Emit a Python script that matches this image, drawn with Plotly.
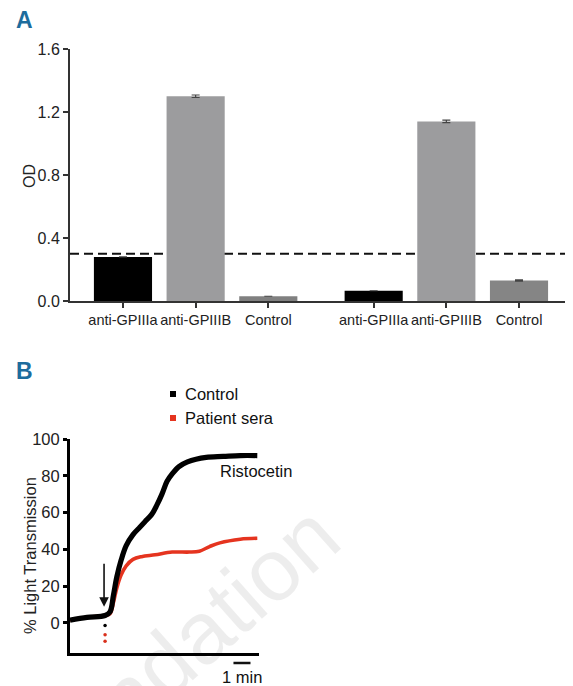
import plotly.graph_objects as go

# ---------------- Panel A data ----------------
a_categories = ["anti-GPIIIa", "anti-GPIIIB", "Control", "anti-GPIIIa", "anti-GPIIIB", "Control"]
a_group = [0, 0, 0, 1, 1, 1]
a_od = [0.28, 1.30, 0.03, 0.065, 1.14, 0.13]
a_err = [0.0, 0.008, 0.0, 0.0, 0.008, 0.004]
a_cutoff = 0.30
a_yticks = [0.0, 0.4, 0.8, 1.2, 1.6]

# ---------------- Panel B data ----------------
b_time_control = [0.0, 1.0, 2.06, 2.35, 2.55, 2.75, 3.0, 3.3, 3.7, 4.1, 4.4, 4.8, 5.1, 5.4,
                  5.7, 6.0, 6.4, 6.9, 7.4, 8.0, 9.0, 10.0, 11.0]
b_control = [1.5, 3.0, 4.0, 6.0, 15.0, 25.0, 34.0, 42.0, 48.0, 52.0, 55.0, 59.0, 64.0, 70.0,
             77.0, 81.0, 85.0, 87.5, 89.0, 90.0, 90.5, 91.0, 91.0]
b_time_patient = [0.0, 1.0, 2.06, 2.35, 2.55, 2.75, 3.0, 3.3, 3.7, 4.2, 5.0, 6.0, 7.0, 7.6,
                  8.2, 8.8, 10.0, 11.0]
b_patient = [1.5, 3.0, 4.0, 5.0, 11.0, 19.0, 26.0, 31.0, 34.5, 36.0, 37.0, 38.5, 38.5, 39.0,
             41.5, 43.5, 45.5, 46.0]
b_drop_time = [2.06]
b_drop_control = [-1.5]
b_drop_patient = [-6.5, -10.0]
b_yticks = [0, 20, 40, 60, 80, 100]
b_series = ["Control", "Patient sera"]
b_arrow_time = 2.0
b_scale_start, b_scale_len = 9.6, 1.0

FONT = "Liberation Sans, Arial, sans-serif"
W, H = 573, 686
OFF = 8  # page body margin that shifts the figure on screen
GAP = 0.45
a_pos = [g * (3 + GAP) + (i % 3) for i, g in enumerate(a_group)]
a_colors = ["#000000", "#9c9c9e", "#808080", "#000000", "#9c9c9e", "#858585"]
RED = "#e5341f"
series_colors = ["#000000", RED]


def px(x):
    return (x - OFF) / W


def py(y):
    return 1 - (y - OFF) / H


fig = go.Figure()

fig.add_trace(go.Bar(
    x=a_pos, y=a_od, width=0.8, marker=dict(color=a_colors, line=dict(width=0)),
    error_y=dict(type="data", array=a_err, visible=True, color="#444", thickness=1.2, width=4),
    xaxis="x", yaxis="y", showlegend=False, hoverinfo="skip"))

# Panel B curves
fig.add_trace(go.Scatter(
    x=b_time_patient, y=b_patient, mode="lines", line=dict(color=RED, width=3.6, shape="spline"),
    xaxis="x2", yaxis="y2", showlegend=False))
fig.add_trace(go.Scatter(
    x=b_time_control, y=b_control, mode="lines", line=dict(color="#000000", width=5.2, shape="spline"),
    xaxis="x2", yaxis="y2", showlegend=False))
fig.add_trace(go.Scatter(
    x=b_drop_time * len(b_drop_control), y=b_drop_control, mode="markers",
    marker=dict(color="#000", size=3.5), xaxis="x2", yaxis="y2", showlegend=False))
fig.add_trace(go.Scatter(
    x=b_drop_time * len(b_drop_patient), y=b_drop_patient, mode="markers",
    marker=dict(color="#d9301c", size=3.5), xaxis="x2", yaxis="y2", showlegend=False))

axis_common = dict(showgrid=False, zeroline=False)

shapes = [
    dict(type="line", xref="x domain", yref="y", x0=0, x1=1, y0=a_cutoff, y1=a_cutoff,
         line=dict(color="#111", width=2, dash="9px,5px"), layer="below"),
    dict(type="line", xref="x2", yref="paper", x0=b_scale_start, x1=b_scale_start + b_scale_len,
         y0=py(663), y1=py(663), line=dict(color="#111", width=2.5)),
]
annotations = [
    dict(text="Foundation", x=px(160), y=py(668), xref="paper", yref="paper", xanchor="center",
         yanchor="middle", showarrow=False, textangle=-41.6,
         font=dict(size=88, family=FONT, color="rgba(0,0,0,0.07)")),
    dict(text="<b>A</b>", x=px(14), y=py(20), xref="paper", yref="paper", showarrow=False,
         xanchor="left", yanchor="middle", font=dict(size=23, color="#1d6c9d")),
    dict(text="<b>B</b>", x=px(14), y=py(371), xref="paper", yref="paper", showarrow=False,
         xanchor="left", yanchor="middle", font=dict(size=23, color="#1d6c9d")),
    dict(text="OD", x=px(29), y=py(176), xref="paper", yref="paper", showarrow=False,
         xanchor="center", yanchor="middle", textangle=-90, font=dict(size=16, color="#222")),
    dict(text="% Light Transmission", x=px(30), y=py(556), xref="paper", yref="paper",
         xanchor="center", yanchor="middle", showarrow=False, textangle=-90,
         font=dict(size=16.5, color="#222")),
    dict(text="Ristocetin", x=px(256), y=py(471), xref="paper", yref="paper", xanchor="center",
         yanchor="middle", showarrow=False, font=dict(size=16.5, color="#111")),
    dict(text="1 min", x=b_scale_start + b_scale_len / 2, y=py(677), xref="x2", yref="paper",
         xanchor="center", yanchor="middle", showarrow=False, font=dict(size=16.5, color="#111")),
    dict(text="", x=b_arrow_time, y=8.7, ax=b_arrow_time, ay=33, xref="x2", yref="y2",
         axref="x2", ayref="y2", showarrow=True, arrowhead=2, arrowsize=1.2,
         arrowwidth=1.6, arrowcolor="#111"),
]
# legend of panel B (square symbol + label)
for k, (name, col) in enumerate(zip(b_series, series_colors)):
    yc = 394 + 24 * k
    shapes.append(dict(type="rect", xref="paper", yref="paper", x0=px(170), x1=px(176),
                       y0=py(yc + 3), y1=py(yc - 3), fillcolor=col, line=dict(width=0)))
    annotations.append(dict(text=name, x=px(183), y=py(yc), xref="paper", yref="paper",
                            xanchor="left", yanchor="middle", showarrow=False,
                            font=dict(size=16.5, color="#111")))

fig.update_layout(
    width=W, height=H, margin=dict(l=0, r=0, t=0, b=0, autoexpand=False),
    paper_bgcolor="white", plot_bgcolor="white", showlegend=False,
    font=dict(family=FONT, color="#222"),
    xaxis=dict(domain=[px(70), px(573)], range=[-0.729, 6.193], anchor="y",
               tickvals=a_pos, ticktext=a_categories, ticks="outside", ticklen=5, tickangle=0,
               tickwidth=1.5, tickcolor="#333", showline=True, linecolor="#333", linewidth=2,
               tickfont=dict(size=14.5, color="#222"), **axis_common),
    yaxis=dict(domain=[py(301), py(49)], range=[0, 1.6], anchor="x",
               tickvals=a_yticks, ticktext=["%.1f" % v for v in a_yticks], ticks="outside",
               ticklen=5, tickwidth=1.5, tickcolor="#333", showline=True, linecolor="#333",
               linewidth=2, tickfont=dict(size=16, color="#222"), **axis_common),
    xaxis2=dict(domain=[px(70), px(259)], range=[0, 11.1], anchor="y2", showticklabels=False,
                ticks="", showline=True, linecolor="#000", linewidth=3, **axis_common),
    yaxis2=dict(domain=[py(653), py(439)], range=[-16.4, 100], anchor="x2",
                tickvals=b_yticks, ticks="outside", ticklen=4, tickwidth=3, tickcolor="#000",
                showline=True, linecolor="#000", linewidth=3,
                tickfont=dict(size=16.5, color="#222"), **axis_common),
    shapes=shapes,
    annotations=annotations,
)

fig.write_html("out.html")
